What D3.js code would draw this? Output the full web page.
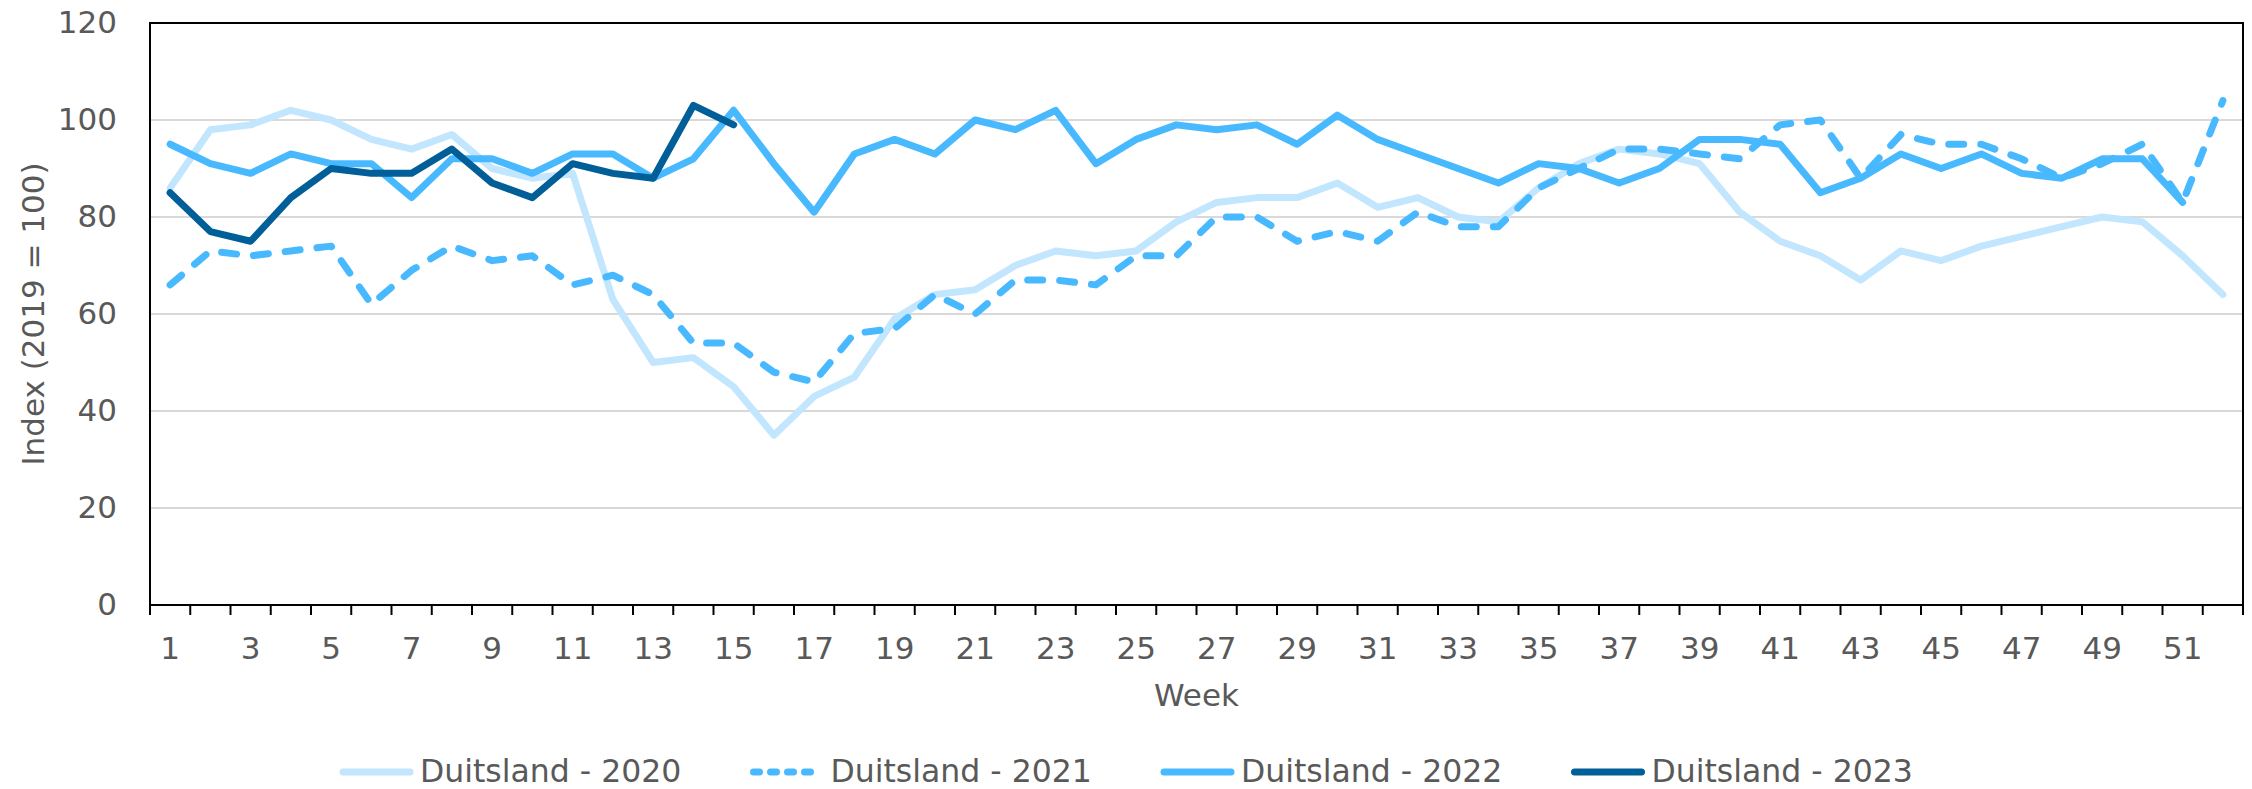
<!DOCTYPE html>
<html>
<head>
<meta charset="utf-8">
<script src="https://cdn.jsdelivr.net/npm/d3@7"></script>
<style>
  body { margin: 0; background: #fff; }
  text { font-family: Verdana, "DejaVu Sans", sans-serif; fill: #595959; }
</style>
</head>
<body>
<div id="chart"></div>
<script>
// Canvas
const width = 2252,
  height = 789,
  plotLeft = 150,
  plotRight = 2243,
  plotTop = 23,
  plotBottom = 605

// Data
const weeks = [1, 2, 3, 4, 5, 6, 7, 8, 9, 10, 11, 12, 13, 14, 15, 16, 17, 18, 19, 20,
  21, 22, 23, 24, 25, 26, 27, 28, 29, 30, 31, 32, 33, 34, 35, 36, 37, 38, 39, 40,
  41, 42, 43, 44, 45, 46, 47, 48, 49, 50, 51, 52]
const weekLabels = [1, 3, 5, 7, 9, 11, 13, 15, 17, 19, 21, 23, 25, 27, 29, 31, 33, 35, 37, 39, 41, 43, 45, 47, 49, 51]
const yTicks = [0, 20, 40, 60, 80, 100, 120]

const d2020 = [86, 98, 99, 102, 100, 96, 94, 97, 90, 88, 89, 63, 50, 51, 45, 35, 43, 47, 59, 64,
  65, 70, 73, 72, 73, 79, 83, 84, 84, 87, 82, 84, 80, 79, 86, 91, 94, 93, 91, 81,
  75, 72, 67, 73, 71, 74, 76, 78, 80, 79, 72, 64]
const d2021 = [66, 73, 72, 73, 74, 62, 69, 74, 71, 72, 66, 68, 64, 54, 54, 48, 46, 56, 57, 64,
  60, 67, 67, 66, 72, 72, 80, 80, 75, 77, 75, 81, 78, 78, 86, 90, 94, 94, 93, 92,
  99, 100, 88, 97, 95, 95, 92, 88, 91, 95, 83, 104]
const d2022 = [95, 91, 89, 93, 91, 91, 84, 92, 92, 89, 93, 93, 88, 92, 102, 91, 81, 93, 96, 93,
  100, 98, 102, 91, 96, 99, 98, 99, 95, 101, 96, 93, 90, 87, 91, 90, 87, 90, 96, 96,
  95, 85, 88, 93, 90, 93, 89, 88, 92, 92, 83]
const d2023 = [85, 77, 75, 84, 90, 89, 89, 94, 87, 84, 91, 89, 88, 103, 99]

const seriesNames = ['Duitsland - 2020', 'Duitsland - 2021', 'Duitsland - 2022', 'Duitsland - 2023']
const seriesColors = ['#c3e6ff', '#48b9ff', '#48b9ff', '#005e98']
const seriesDash = [null, '15,17', null, null]
const seriesData = [d2020, d2021, d2022, d2023]

const svg = d3.select('#chart')
  .append('svg')
  .attr('width', width)
  .attr('height', height)

const x = d3.scaleBand()
  .domain(weeks)
  .range([plotLeft, plotRight])

const y = d3.scaleLinear()
  .domain([0, 120])
  .range([plotBottom, plotTop])

// gridlines
svg.append('g')
  .selectAll('line')
  .data(yTicks.filter(d => d > 0 && d < 120))
  .enter()
  .append('line')
  .attr('x1', plotLeft)
  .attr('x2', plotRight)
  .attr('y1', d => y(d))
  .attr('y2', d => y(d))
  .attr('stroke', '#d9d9d9')
  .attr('stroke-width', 2)

// y axis labels
const yAxis = d3.axisLeft(y).tickValues(yTicks).tickSize(0).tickPadding(33)
const gy = svg.append('g')
  .attr('transform', `translate(${plotLeft}, 0)`)
  .call(yAxis)
gy.select('.domain').remove()
gy.selectAll('text')
  .style('font-size', '31px')
  .style('font-family', 'Verdana, "DejaVu Sans", sans-serif')
  .attr('fill', '#595959')

// x axis labels
const xAxis = d3.axisBottom(x).tickValues(weekLabels).tickSize(0)
const gx = svg.append('g')
  .attr('transform', `translate(0, ${plotBottom})`)
  .call(xAxis)
gx.select('.domain').remove()
gx.selectAll('text')
  .attr('y', 54)
  .attr('dy', 0)
  .style('font-size', '31px')
  .style('font-family', 'Verdana, "DejaVu Sans", sans-serif')
  .attr('fill', '#595959')

// tick marks at band edges
const edges = weeks.map(d => x(d)).concat([x(weeks[weeks.length - 1]) + x.bandwidth()])
svg.append('g')
  .selectAll('line')
  .data(edges)
  .enter()
  .append('line')
  .attr('x1', d => d)
  .attr('x2', d => d)
  .attr('y1', plotBottom)
  .attr('y2', plotBottom + 10)
  .attr('stroke', '#000')
  .attr('stroke-width', 2)

// frame
svg.append('rect')
  .attr('x', plotLeft)
  .attr('y', plotTop)
  .attr('width', plotRight - plotLeft)
  .attr('height', plotBottom - plotTop)
  .attr('fill', 'none')
  .attr('stroke', '#000')
  .attr('stroke-width', 2)

// lines
const line = d3.line()
  .defined(d => d[1] != null)
  .x(d => x(d[0]) + x.bandwidth() / 2)
  .y(d => y(d[1]))

seriesData.forEach((data, i) => {
  svg.append('path')
    .datum(data.map((v, j) => [weeks[j], v]))
    .attr('fill', 'none')
    .attr('stroke', seriesColors[i])
    .attr('stroke-width', 7)
    .attr('stroke-linejoin', 'round')
    .attr('stroke-linecap', 'round')
    .attr('stroke-dasharray', seriesDash[i])
    .attr('d', line)
})

// axis titles
svg.append('text')
  .attr('x', (plotLeft + plotRight) / 2)
  .attr('y', 706)
  .attr('text-anchor', 'middle')
  .style('font-size', '31px')
  .text('Week')

svg.append('text')
  .attr('transform', `translate(44, ${(plotTop + plotBottom) / 2}) rotate(-90)`)
  .attr('text-anchor', 'middle')
  .style('font-size', '31px')
  .text('Index (2019 = 100)')

// legend
const legend = svg.append('g')
seriesNames.forEach((name, i) => {
  const x0 = 339 + i * 410.5
  legend.append('line')
    .attr('x1', x0 + 4)
    .attr('x2', x0 + 71)
    .attr('y1', 772)
    .attr('y2', 772)
    .attr('stroke', seriesColors[i])
    .attr('stroke-width', 7)
    .attr('stroke-linecap', 'round')
    .attr('stroke-dasharray', i === 1 ? '6,11' : null)
  legend.append('text')
    .attr('x', x0 + 81)
    .attr('y', 782)
    .style('font-size', '31.5px')
    .text(name)
})
</script>
</body>
</html>
